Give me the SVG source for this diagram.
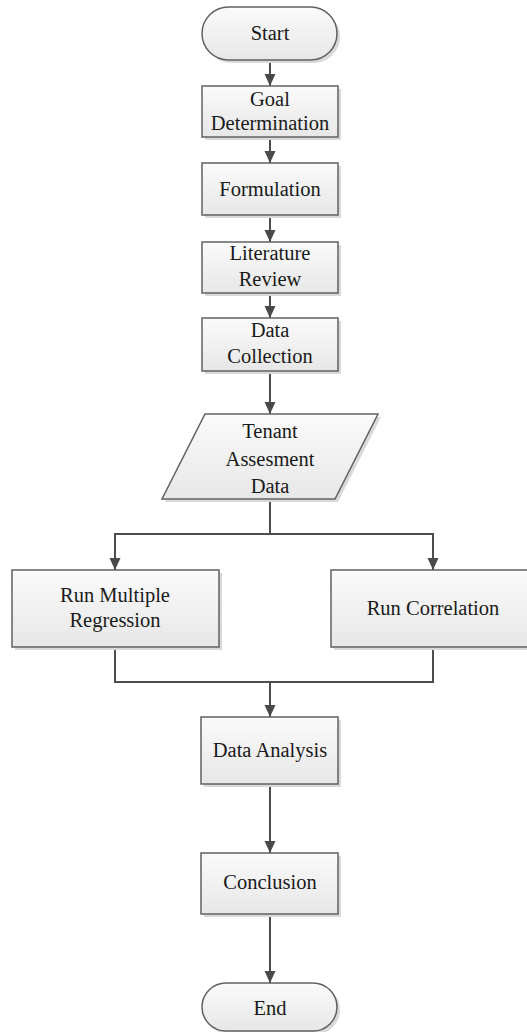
<svg xmlns="http://www.w3.org/2000/svg" width="527" height="1032" viewBox="0 0 527 1032">
  <defs>
    <linearGradient id="g" x1="0" y1="0" x2="0" y2="1">
      <stop offset="0" stop-color="#fbfbfb"/>
      <stop offset="1" stop-color="#e7e7e7"/>
    </linearGradient>
    <marker id="ah" markerUnits="userSpaceOnUse" markerWidth="12" markerHeight="12" refX="12" refY="6" orient="auto">
      <path d="M0,0.5 L12,6 L0,11.5 z" fill="#4a4a4a"/>
    </marker>
    <style>
      .shape { fill: url(#g); stroke: #616161; stroke-width: 1.5; }
      .shadow { fill: #d9d9d9; stroke: none; }
      .conn { fill: none; stroke: #4d4d4d; stroke-width: 2; }
      .arrow { marker-end: url(#ah); }
      text { font-family: "Liberation Serif", "Times New Roman", serif; font-size: 20.5px; fill: #1a1a1a; text-anchor: middle; }
    </style>
  </defs>
  <rect width="527" height="1032" fill="#ffffff"/>

  <g id="connectors">
    <line class="conn arrow" x1="270" y1="60" x2="270" y2="86"/>
    <line class="conn arrow" x1="270" y1="137" x2="270" y2="163"/>
    <line class="conn arrow" x1="270" y1="215" x2="270" y2="242"/>
    <line class="conn arrow" x1="270" y1="293" x2="270" y2="318"/>
    <line class="conn arrow" x1="270" y1="371" x2="270" y2="414"/>
    <polyline class="conn" points="270,499 270,534"/>
    <polyline class="conn arrow" points="270,534 115,534 115,570"/>
    <polyline class="conn arrow" points="270,534 433,534 433,570"/>
    <polyline class="conn" points="115,647 115,682 433,682 433,647"/>
    <line class="conn arrow" x1="270" y1="682" x2="270" y2="717"/>
    <line class="conn arrow" x1="270" y1="784" x2="270" y2="853"/>
    <line class="conn arrow" x1="270" y1="914" x2="270" y2="983"/>
  </g>

  <g id="start">
    <rect class="shadow" x="205" y="10" width="135" height="53" rx="26.5"/>
    <rect class="shape" x="202" y="7" width="135" height="53" rx="26.5"/>
    <text x="270" y="40">Start</text>
  </g>

  <g id="goal">
    <rect class="shadow" x="205" y="89" width="136" height="51"/>
    <rect class="shape" x="202" y="86" width="136" height="51"/>
    <text x="270" y="106">Goal</text>
    <text x="270" y="130">Determination</text>
  </g>

  <g id="formulation">
    <rect class="shadow" x="205" y="166" width="136" height="52"/>
    <rect class="shape" x="202" y="163" width="136" height="52"/>
    <text x="270" y="196">Formulation</text>
  </g>

  <g id="literature">
    <rect class="shadow" x="205" y="245" width="136" height="51"/>
    <rect class="shape" x="202" y="242" width="136" height="51"/>
    <text x="270" y="260">Literature</text>
    <text x="270" y="286">Review</text>
  </g>

  <g id="data-collection">
    <rect class="shadow" x="205" y="321" width="136" height="53"/>
    <rect class="shape" x="202" y="318" width="136" height="53"/>
    <text x="270" y="337">Data</text>
    <text x="270" y="363">Collection</text>
  </g>

  <g id="tenant-data">
    <polygon class="shadow" points="208,417 381,417 338,502 165,502"/>
    <polygon class="shape" points="205,414 378,414 335,499 162,499"/>
    <text x="270" y="438">Tenant</text>
    <text x="270" y="466">Assesment</text>
    <text x="270" y="493">Data</text>
  </g>

  <g id="run-multiple-regression">
    <rect class="shadow" x="15" y="573" width="207" height="77"/>
    <rect class="shape" x="12" y="570" width="207" height="77"/>
    <text x="115" y="602">Run Multiple</text>
    <text x="115" y="627">Regression</text>
  </g>

  <g id="run-correlation">
    <rect class="shadow" x="334" y="573" width="207" height="77"/>
    <rect class="shape" x="331" y="570" width="207" height="77"/>
    <text x="433" y="615">Run Correlation</text>
  </g>

  <g id="data-analysis">
    <rect class="shadow" x="204" y="720" width="137" height="67"/>
    <rect class="shape" x="201" y="717" width="137" height="67"/>
    <text x="270" y="757">Data Analysis</text>
  </g>

  <g id="conclusion">
    <rect class="shadow" x="204" y="856" width="137" height="61"/>
    <rect class="shape" x="201" y="853" width="137" height="61"/>
    <text x="270" y="889">Conclusion</text>
  </g>

  <g id="end">
    <rect class="shadow" x="205" y="986" width="135" height="48" rx="24"/>
    <rect class="shape" x="202" y="983" width="135" height="48" rx="24"/>
    <text x="270" y="1015">End</text>
  </g>
</svg>
